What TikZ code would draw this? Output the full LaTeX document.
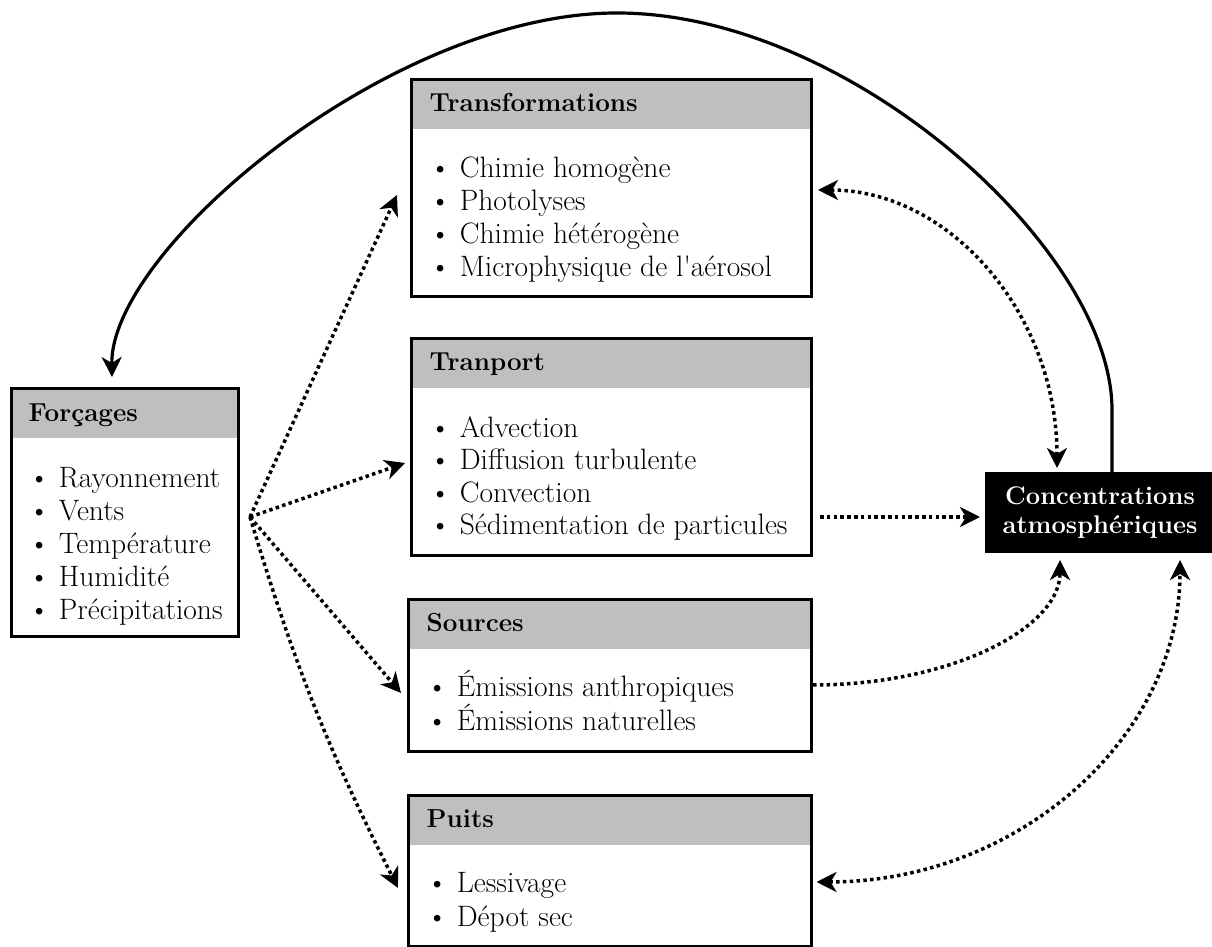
\documentclass[tikz,border=0pt]{standalone}
\usetikzlibrary{arrows.meta,calc}

\tikzset{
    box/.style={draw, line width=3.4pt, inner sep=0pt, outer sep=0pt},
    headbar/.style={fill=black!25, inner sep=0pt, outer sep=0pt, anchor=north west, minimum height=47.5pt},
    title/.style={font=\fontsize{26}{30}\selectfont\bfseries, anchor=base west, inner sep=0pt},
    item/.style={font=\fontsize{29.5}{33}\selectfont, anchor=base west, inner sep=0pt},
    concbox/.style={fill=black, text=white, inner sep=0pt, outer sep=0pt, align=center,
        font=\fontsize{25.5}{29}\selectfont\bfseries},
    tip/.tip={Stealth[length=20pt, width=20pt, inset=6pt]},
    flux/.style={line width=3.5pt, dash pattern=on 3.5pt off 3.3pt, -tip},
    bothflux/.style={flux, tip-tip},
    retro/.style={line width=3.2pt, -tip},
}

\begin{document}
\begin{tikzpicture}[x=1pt, y=1pt]
            \useasboundingbox (0,0) rectangle (1212,947);
            % forcages
            \node[box, minimum width=227pt, minimum height=248pt] (forc) at (125,434.5) {};
            \node[headbar, minimum width=223.6pt] (forc-h) at ($(forc.north west)+(1.7,-1.7)$) {};
            \node[title] (forc-t) at ($(forc.north west)+(17,-33)$) {Forçages};
            \foreach \txt [count=\i] in {Rayonnement, Vents, Température, Humidité, Précipitations}
                \node[item] (forc-\i) at ($(forc.north west)+(17,{-99-33*(\i-1)})$) {\textbullet~\txt};
            % transformations
            \node[box, minimum width=400pt, minimum height=217pt] (trans) at (611.5,759) {};
            \node[headbar, minimum width=396.6pt] (trans-h) at ($(trans.north west)+(1.7,-1.7)$) {};
            \node[title] (trans-t) at ($(trans.north west)+(18,-32)$) {Transformations};
            \foreach \txt [count=\i] in {Chimie homogène, Photolyses, Chimie hétérogène, Microphysique de l\textquotesingle aérosol}
                \node[item] (trans-\i) at ($(trans.north west)+(18,{-98.5-33*(\i-1)})$) {\textbullet~\txt};
            % transport
            \node[box, minimum width=400pt, minimum height=217pt] (tran) at (611.5,500) {};
            \node[headbar, minimum width=396.6pt] (tran-h) at ($(tran.north west)+(1.7,-1.7)$) {};
            \node[title] (tran-t) at ($(tran.north west)+(18,-32)$) {Tranport};
            \foreach \txt [count=\i] in {Advection, Diffusion turbulente, Convection, Sédimentation de particules}
                \node[item] (tran-\i) at ($(tran.north west)+(18,{-99-32.5*(\i-1)})$) {\textbullet~\txt};
            % sources
            \node[box, minimum width=403pt, minimum height=152pt] (src) at (610,271.5) {};
            \node[headbar, minimum width=399.6pt] (src-h) at ($(src.north west)+(1.7,-1.7)$) {};
            \node[title] (src-t) at ($(src.north west)+(18,-32)$) {Sources};
            \foreach \txt [count=\i] in {Émissions anthropiques, Émissions naturelles}
                \node[item] (src-\i) at ($(src.north west)+(18,{-97.5-34*(\i-1)})$) {\textbullet~\txt};
            % puits
            \node[box, minimum width=403pt, minimum height=151pt] (puits) at (610,76) {};
            \node[headbar, minimum width=399.6pt] (puits-h) at ($(puits.north west)+(1.7,-1.7)$) {};
            \node[title] (puits-t) at ($(puits.north west)+(18,-32)$) {Puits};
            \foreach \txt [count=\i] in {Lessivage, Dépot sec}
                \node[item] (puits-\i) at ($(puits.north west)+(18,{-97.5-34*(\i-1)})$) {\textbullet~\txt};
            % concentrations
            \node[concbox, minimum width=230pt, minimum height=81pt] (conc) at (1100,434.5)
                {Concentrations\\atmosphériques};
            % arrows from forcages
            \coordinate (fsrc) at ($(forc.east)+(11.5,-4.5)$);
            \draw[flux] (fsrc) -- ($(trans.west)+(-14.5,-7)$);
            \draw[flux] (fsrc) -- ($(tran.west)+(-6.5,-16)$);
            \draw[flux] (fsrc) -- ($(src.west)+(-7.5,-17.5)$);
            \draw[flux] (fsrc) to[bend right=5] ($(puits.west)+(-10.5,-17)$);
            % arrows to concentrations
            \draw[flux] ($(tran.east)+(8.5,-70)$) -- ($(conc.west)+(-5,-4.5)$);
            \draw[bothflux] ($(trans.east)+(6.5,-2)$) .. controls +(132,0) and +(0,154) .. ($(conc.north)+(-43,4)$);
            \draw[flux] ($(src.east)+(1.5,-9.5)$) .. controls +(136,0) and +(0,-69) .. ($(conc.south)+(-40,-7)$);
            \draw[bothflux] ($(puits.east)+(5,-11)$) .. controls +(201,0) and +(0,-178) .. ($(conc.south)+(80,-7)$);
            % feedback
            \draw[retro] ($(conc.north)+(12,0)$) -- (1112,537)
                .. controls (1112,697) and (850,934) .. (617,934)
                .. controls (390,934) and (110,697) .. ($(forc.north)+(-13,11.5)$);
        \end{tikzpicture}
\end{document}
